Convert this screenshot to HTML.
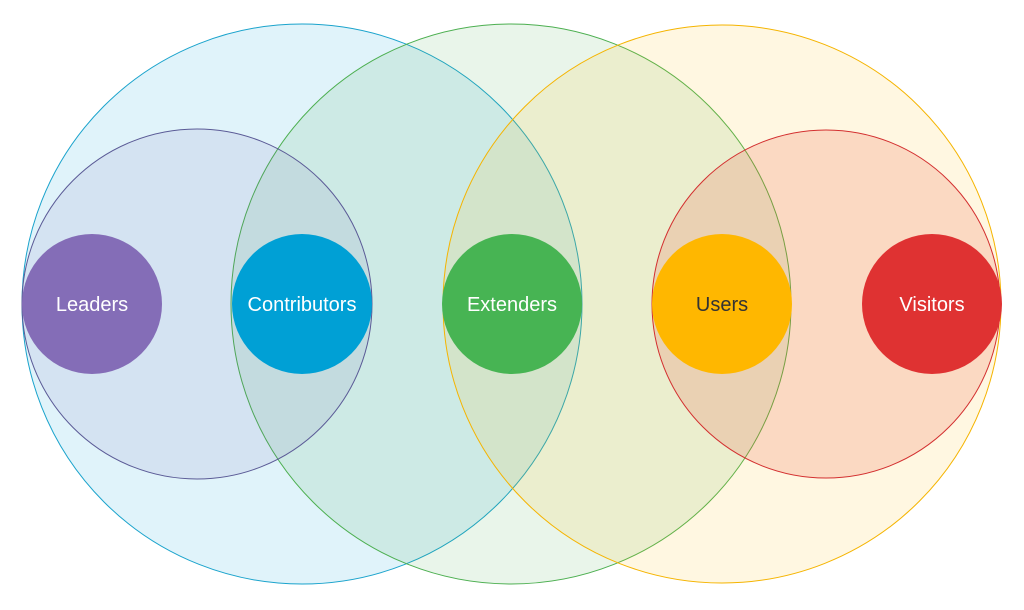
<!DOCTYPE html>
<html><head><meta charset="utf-8"><style>
html,body{margin:0;padding:0;background:#fff;}
svg{display:block}
text{font-family:"Liberation Sans",sans-serif;font-size:20px;text-anchor:middle;dominant-baseline:central}
</style></head><body>
<svg width="1024" height="610" viewBox="0 0 1024 610">
<circle cx="302" cy="304" r="280" fill="rgba(0,160,210,0.12)" stroke="#1aa3cc" stroke-width="1"/>
<circle cx="511" cy="304" r="280" fill="rgba(76,175,80,0.12)" stroke="#4caf50" stroke-width="1"/>
<circle cx="722" cy="304" r="279" fill="rgba(255,190,20,0.13)" stroke="#f5b400" stroke-width="1"/>
<circle cx="197" cy="304" r="175" fill="rgba(110,90,180,0.10)" stroke="#5a5a96" stroke-width="1"/>
<circle cx="826" cy="304" r="174" fill="rgba(230,60,40,0.16)" stroke="#d32f2f" stroke-width="1"/>
<circle cx="92" cy="304" r="70" fill="#846db7"/>
<circle cx="302" cy="304" r="70" fill="#00a0d5"/>
<circle cx="512" cy="304" r="70" fill="#47b453"/>
<circle cx="722" cy="304" r="70" fill="#ffb700"/>
<circle cx="932" cy="304" r="70" fill="#df3232"/>
<text x="92" y="305" fill="#fff">Leaders</text>
<text x="302" y="305" fill="#fff">Contributors</text>
<text x="512" y="305" fill="#fff">Extenders</text>
<text x="722" y="305" fill="#333">Users</text>
<text x="932" y="305" fill="#fff">Visitors</text>
</svg>
</body></html>
